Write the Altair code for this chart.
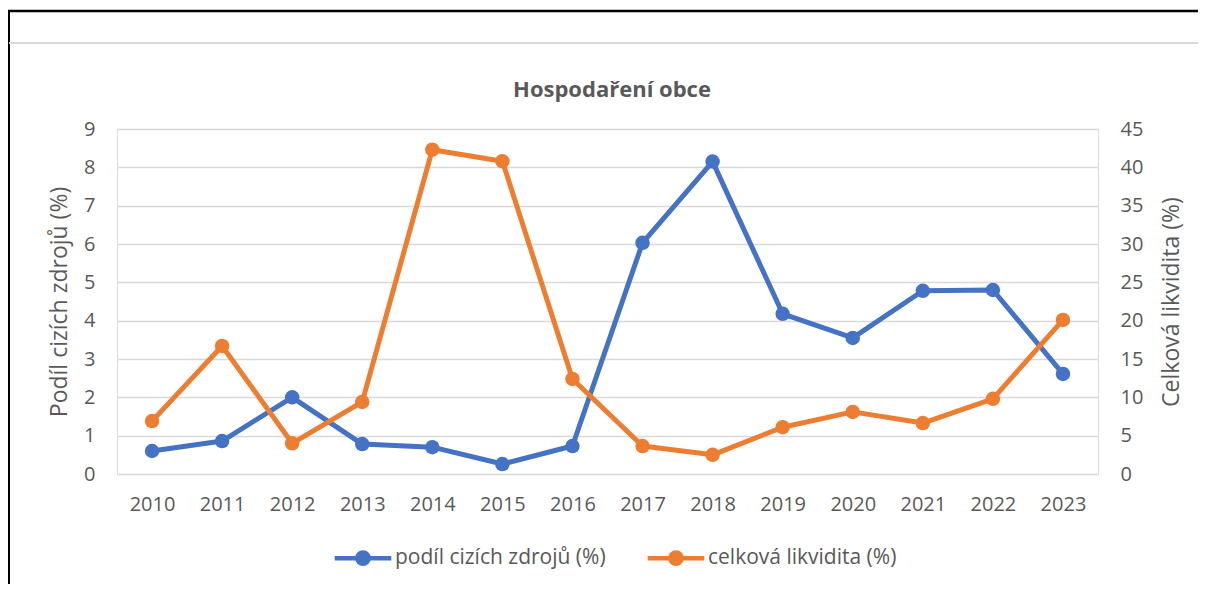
import altair as alt
import pandas as pd

years = [str(y) for y in range(2010, 2024)]
podil = [0.60, 0.86, 2.00, 0.78, 0.70, 0.26, 0.73, 6.03, 8.15, 4.18, 3.55, 4.78, 4.80, 2.61]
likvidita = [6.9, 16.7, 4.0, 9.4, 42.3, 40.8, 12.4, 3.65, 2.5, 6.1, 8.1, 6.65, 9.8, 20.1]
series_names = ["podíl cizích zdrojů (%)", "celková likvidita (%)"]
colors = ["#4472C4", "#ED7D31"]
chart_title = "Hospodaření obce"

df1 = pd.DataFrame({"rok": years, "hodnota": podil, "serie": series_names[0]})
df2 = pd.DataFrame({"rok": years, "hodnota": likvidita, "serie": series_names[1]})

FONT = "Open Sans"
GRAY = "#595959"

xenc = alt.X("rok:N", sort=years, title=None,
             scale=alt.Scale(type="point", padding=0.5),
             axis=alt.Axis(labelAngle=0, labelFontSize=20, labelColor=GRAY, labelFont=FONT,
                           domain=False, ticks=False, labelPadding=20, grid=False))

color = alt.Color("serie:N", scale=alt.Scale(domain=series_names, range=colors),
                  legend=alt.Legend(orient="none", direction="horizontal", title=None,
                                    legendX=215, legendY=398,
                                    labelFontSize=21, labelFont=FONT, labelColor=GRAY,
                                    labelLimit=400,
                                    symbolType="M-1,0L1,0M-0.2,0A0.2,0.2,0,1,0,0.2,0A0.2,0.2,0,1,0,-0.2,0Z",
                                    symbolSize=3200, symbolStrokeWidth=4.5, labelOffset=1,
                                    symbolOpacity=1, columnPadding=32))

left_axis = alt.Axis(title="Podíl cizích zdrojů (%)", titleFontSize=23, titleFont=FONT,
                     titleColor=GRAY, titleFontWeight="normal", labelFontSize=20,
                     labelFont=FONT, labelColor=GRAY, values=list(range(0, 10)),
                     domain=False, ticks=False, labelPadding=22, titlePadding=12,
                     grid=True, gridColor="#D9D9D9", gridWidth=1.5)
right_axis = alt.Axis(title="Celková likvidita (%)", titleFontSize=23, titleFont=FONT,
                      titleColor=GRAY, titleFontWeight="normal", labelFontSize=20,
                      labelFont=FONT, labelColor=GRAY, values=list(range(0, 50, 5)),
                      domain=False, ticks=False, labelPadding=22, titlePadding=41,
                      titleAngle=-90, grid=False, orient="right")

def series(df, axis, dom):
    base = alt.Chart(df).encode(
        x=xenc,
        y=alt.Y("hodnota:Q", axis=axis, scale=alt.Scale(domain=dom, nice=False)),
        color=color)
    return base.mark_line(strokeWidth=5, strokeJoin="round") + \
        base.mark_point(filled=True, size=210, opacity=1)

blue = series(df1, left_axis, [0, 9])
orange = series(df2, right_axis, [0, 45])

frame_df = pd.DataFrame({"t": [chart_title]})
top_line = alt.Chart(frame_df).mark_rule(color="black", strokeWidth=2.5).encode(
    x=alt.value(-109), x2=alt.value(1090), y=alt.value(-118))
left_line = alt.Chart(frame_df).mark_rule(color="black", strokeWidth=2).encode(
    x=alt.value(-108), y=alt.value(-119), y2=alt.value(470))
gray_line = alt.Chart(frame_df).mark_rule(color="#D9D9D9", strokeWidth=2).encode(
    x=alt.value(-108), x2=alt.value(1090), y=alt.value(-86))
title_text = alt.Chart(frame_df).mark_text(
    font=FONT, fontSize=22, fontWeight="bold", color=GRAY, align="center", baseline="middle"
).encode(text="t:N", x=alt.value(495), y=alt.value(-39))

chart = alt.layer(blue, orange).resolve_scale(y="independent")
chart = alt.layer(chart, top_line, left_line, gray_line, title_text).properties(
    width=981, height=345,
    autosize=alt.AutoSizeParams(type="none"),
    padding={"left": 109, "top": 121, "right": 100, "bottom": 110},
).configure_view(stroke=None).configure(background="white")

chart.save("out.html", embed_options={"renderer": "svg", "actions": False})
